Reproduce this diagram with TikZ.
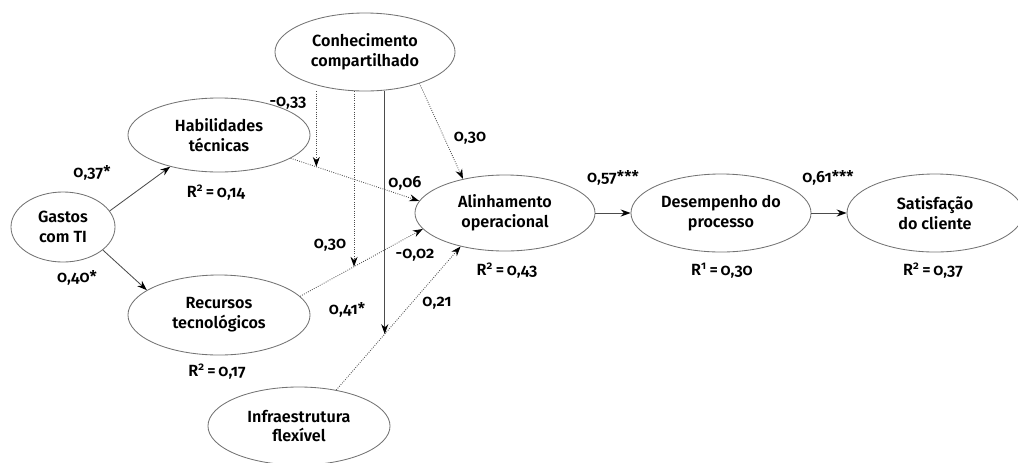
\documentclass[tikz,border=0pt]{standalone}
\usepackage{fontspec}
\setmainfont{Fira Sans}[UprightFont={* SemiBold}, Numbers=OldStyle]
\usetikzlibrary{shapes.geometric,arrows.meta,calc}

\begin{document}
\begin{tikzpicture}[x=0.025cm, y=-0.025cm, font=\fontsize{11.5}{14}\selectfont,
        latent/.style={ellipse, draw=black!55, line width=0.6pt, inner sep=0pt, align=center},
        link/.style={draw=black!70, line width=0.6pt, -{Stealth[length=7pt, width=5pt, black]}},
        nslink/.style={link, densely dotted}]

    \useasboundingbox (0,0) rectangle (1018,462);

    % constructs
    \node[latent, minimum width=4.5cm, minimum height=1.95cm] (conh) at (365,52) {Conhecimento\\compartilhado};
    \node[latent, minimum width=4.55cm, minimum height=1.85cm] (hab) at (219,135) {Habilidades\\técnicas};
    \node[latent, minimum width=2.6cm, minimum height=1.75cm] (gas) at (63,227) {Gastos\\com TI};
    \node[latent, minimum width=4.55cm, minimum height=2cm] (rec) at (219,315) {Recursos\\tecnológicos};
    \node[latent, minimum width=4.55cm, minimum height=1.95cm] (inf) at (299,426) {Infraestrutura\\flexível};
    \node[latent, minimum width=4.5cm, minimum height=1.9cm] (ali) at (505,213) {Alinhamento\\operacional};
    \node[latent, minimum width=4.5cm, minimum height=1.95cm] (des) at (721,213) {Desempenho do\\processo};
    \node[latent, minimum width=4.4cm, minimum height=1.95cm] (sat) at (935,213) {Satisfação\\do cliente};

    % explained variance
    \node (r2hab) at (216,193) {R\textsuperscript{2}\,=\,0,14};
    \node (r2rec) at (217,372) {R\textsuperscript{2}\,=\,0,17};
    \node (r2ali) at (507,271) {R\textsuperscript{2}\,=\,0,43};
    \node (r2des) at (722,271) {R\textsuperscript{1}\,=\,0,30};
    \node (r2sat) at (933,271) {R\textsuperscript{2}\,=\,0,37};

    % paths
    \draw[link] (gas.19) -- (hab.213);
    \draw[link] (gas.330) -- (rec.161);
    \draw[nslink] (hab.342) -- (ali.172);
    \draw[nslink] (rec.13) -- (ali.191);
    \draw[nslink] (inf.44) -- (ali.217);
    \draw[nslink] (conh.330) -- (ali.141);
    \draw[link] (ali.east) -- (des.west);
    \draw[link] (des.east) -- (sat.west);

    % moderating effects
    \coordinate (mHab) at ($(hab.342)!0.2!(ali.172)$);
    \coordinate (mRec) at ($(rec.13)!0.44!(ali.191)$);
    \coordinate (mInf) at ($(inf.44)!0.39!(ali.217)$);
    \draw[nslink] (mHab |- conh.south) -- (mHab);
    \draw[nslink] (mRec |- conh.south) -- (mRec);
    \draw[link] (mInf |- conh.south) -- (mInf);

    % coefficients
    \node (cGasHab) at (92,173) {0,37*};
    \node (cGasRec) at (77,278) {0,40*};
    \node (cModHab) at (288,103) {-0,33};
    \node (cConAli) at (470,138) {0,30};
    \node (cHabAli) at (405,183) {0,06};
    \node (cModRec) at (330,245) {0,30};
    \node (cRecAli) at (415,255) {-0,02};
    \node (cModInf) at (347,310) {0,41*};
    \node (cInfAli) at (437,303) {0,21};
    \node (cAliDes) at (613,178) {0,57***};
    \node (cDesSat) at (828,178) {0,61***};

\end{tikzpicture}
\end{document}
